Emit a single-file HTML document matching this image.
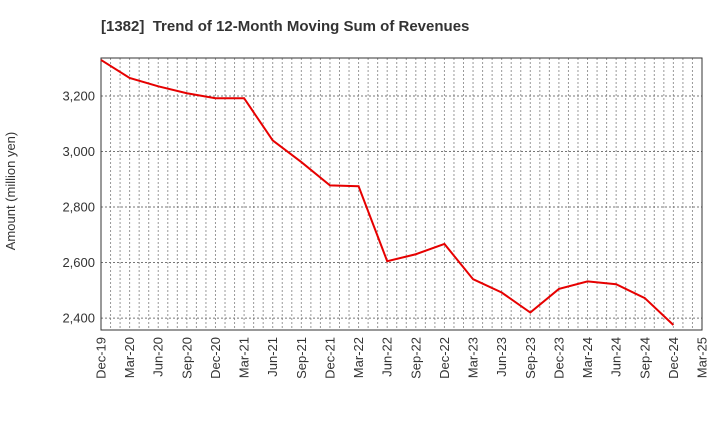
<!DOCTYPE html>
<html><head><meta charset="utf-8"><style>
body{margin:0;background:#fff;font-family:"Liberation Sans",sans-serif;}
</style></head><body>
<svg id="chart" width="720" height="440" xmlns="http://www.w3.org/2000/svg">
<text x="101" y="31" text-anchor="start" font-size="15" font-weight="bold" fill="#333" xml:space="preserve">[1382]  Trend of 12-Month Moving Sum of Revenues</text>
<text transform="translate(15,191) rotate(-90)" text-anchor="middle" font-size="13" fill="#333">Amount (million yen)</text>
<g id="grid"></g><g id="axes"></g><g id="series"></g>
</svg>
<script>
const categories=["Dec-19","Mar-20","Jun-20","Sep-20","Dec-20","Mar-21","Jun-21","Sep-21","Dec-21","Mar-22","Jun-22","Sep-22","Dec-22","Mar-23","Jun-23","Sep-23","Dec-23","Mar-24","Jun-24","Sep-24","Dec-24","Mar-25"];
const revenues=[3330,3265,3235,3210,3192,3192,3040,2962,2878,2875,2605,2630,2667,2540,2492,2420,2505,2532,2522,2472,2375];
const yTicks=[2400,2600,2800,3000,3200];
const yTickLabels=["2,400","2,600","2,800","3,000","3,200"];
const L=101,R=702,T=58,B=330,yMin=2357,yMax=3337;
const NS="http://www.w3.org/2000/svg";
const x=i=>L+(R-L)*i/(categories.length-1);
const y=v=>B-(v-yMin)/(yMax-yMin)*(B-T);
function mk(tag,attrs,parent){const e=document.createElementNS(NS,tag);for(const k in attrs)e.setAttribute(k,attrs[k]);document.getElementById(parent).appendChild(e);return e;}
const nMonths=(categories.length-1)*3;
for(let m=1;m<nMonths;m++){const xx=L+(R-L)*m/nMonths;
const g=mk('line',{x1:xx,x2:xx,y1:T,y2:B,stroke:'#999','stroke-dasharray':'2,2','stroke-width':1},'grid');

}
yTicks.forEach((v,i)=>{const g=mk('line',{x1:L,x2:R,y1:y(v),y2:y(v),stroke:'#777','stroke-dasharray':'2,2','stroke-width':1},'grid');


const t=mk('text',{x:L-6,y:y(v)+4.5,'text-anchor':'end','font-size':13,fill:'#333'},'axes');t.textContent=yTickLabels[i];

});
categories.forEach((c,i)=>{const t=mk('text',{transform:`translate(${x(i)+4.5},${B+7}) rotate(-90)`,'text-anchor':'end','font-size':13,fill:'#333'},'axes');t.textContent=c;

});
const fr=mk('rect',{x:L,y:T,width:R-L,height:B-T,fill:'none',stroke:'#333','stroke-width':1},'axes');


const p=mk('polyline',{points:revenues.map((v,i)=>x(i)+','+y(v)).join(' '),fill:'none',stroke:'#e60000','stroke-width':2},'series');


</script>
</body></html>
